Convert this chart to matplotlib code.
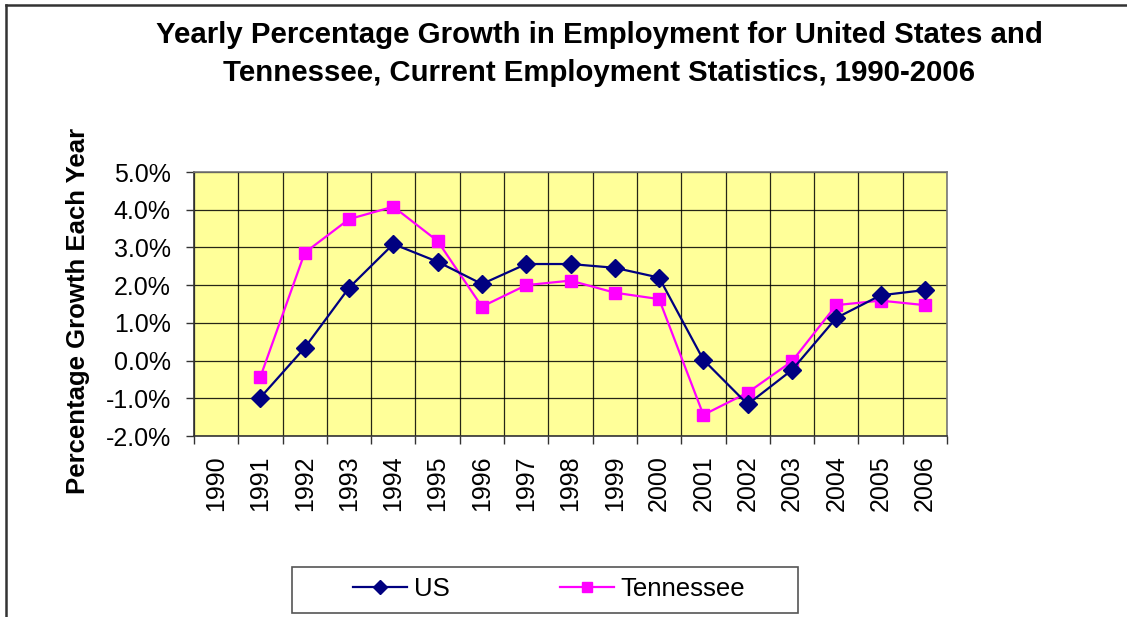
import matplotlib
matplotlib.use("Agg")
import matplotlib.pyplot as plt
from matplotlib.ticker import FixedLocator, FuncFormatter, NullFormatter
from matplotlib.lines import Line2D
from matplotlib.patches import Rectangle

# Yearly percentage growth in employment (CES)
years = [str(y) for y in range(1990, 2007)]
us = [None, -0.98, 0.34, 1.93, 3.09, 2.62, 2.03, 2.56, 2.56, 2.46, 2.20,
      0.02, -1.16, -0.25, 1.13, 1.73, 1.87]
tennessee = [None, -0.43, 2.86, 3.75, 4.08, 3.17, 1.43, 2.00, 2.12, 1.80, 1.63,
             -1.44, -0.85, -0.02, 1.47, 1.59, 1.47]
y_ticks = [-2, -1, 0, 1, 2, 3, 4, 5]

plt.rcParams["font.family"] = ["Liberation Sans", "DejaVu Sans"]

W, H = 1127, 617
fig = plt.figure(figsize=(W / 100, H / 100), dpi=100)
fig.patch.set_facecolor("white")

def fx(px):
    return px / W

def fy(py):
    return 1 - py / H

ax = fig.add_axes([fx(194), fy(436), fx(947) - fx(194), fy(172) - fy(436)])
ax.set_facecolor("#FFFF99")

xs = [i + 0.5 for i in range(len(years))]
us_pts = [(x, v) for x, v in zip(xs, us) if v is not None]
tn_pts = [(x, v) for x, v in zip(xs, tennessee) if v is not None]

ax.plot([p[0] for p in us_pts], [p[1] for p in us_pts], color="#000080",
        lw=1.6, marker="D", ms=9, mfc="#000080", mec="#000080",
        label="US", zorder=4)
ax.plot([p[0] for p in tn_pts], [p[1] for p in tn_pts], color="#FF00FF",
        lw=1.6, marker="s", ms=9, mfc="#FF00FF", mec="#FF00FF",
        label="Tennessee", zorder=3)

ax.set_xlim(0, len(years))
ax.set_ylim(-2, 5)

# category boundaries carry the grid and tick marks, labels sit in between
ax.xaxis.set_major_locator(FixedLocator(range(len(years) + 1)))
ax.xaxis.set_major_formatter(NullFormatter())
ax.xaxis.set_minor_locator(FixedLocator(xs))
ax.set_xticklabels(years, minor=True, rotation=90, fontsize=18)
ax.tick_params(axis="x", which="major", direction="out", length=5.8,
               width=1, color="#333333")
ax.tick_params(axis="x", which="minor", length=0, pad=14)

ax.yaxis.set_major_locator(FixedLocator(y_ticks))
ax.yaxis.set_major_formatter(FuncFormatter(lambda v, p: f"{v:.1f}%"))
ax.tick_params(axis="y", direction="out", length=5.8, width=1,
               color="#333333", pad=11, labelsize=18)

ax.grid(True, which="major", color="#000000", lw=0.9, alpha=0.85)
ax.set_axisbelow(True)
for side in ["left", "bottom"]:
    ax.spines[side].set_color("#333333")
    ax.spines[side].set_linewidth(1.2)
for side in ["right", "top"]:
    ax.spines[side].set_color("#777777")
    ax.spines[side].set_linewidth(1.2)

fig.text(fx(599), fy(35), "Yearly Percentage Growth in Employment for United States and",
         ha="center", va="center", fontsize=21.2, fontweight="bold")
fig.text(fx(599), fy(73), "Tennessee, Current Employment Statistics, 1990-2006",
         ha="center", va="center", fontsize=21.2, fontweight="bold")
fig.text(fx(78), fy(311), "Percentage Growth Each Year", rotation=90,
         ha="center", va="center", fontsize=18.5, fontweight="bold")

# legend box
fig.add_artist(Rectangle((fx(292), fy(613)), fx(798) - fx(292), fy(567) - fy(613),
                         transform=fig.transFigure, facecolor="white",
                         edgecolor="#555555", lw=1.2))
handles, labels = ax.get_legend_handles_labels()
fig.legend(handles, labels, loc="center", bbox_to_anchor=(fx(549), fy(589)),
           ncol=2, frameon=False, fontsize=18.5, handlelength=2.1,
           handletextpad=0.25, columnspacing=4.3, markerscale=0.8)

# outer chart border (left and top)
fig.add_artist(Line2D([fx(6), fx(6)], [fy(617), fy(5)], transform=fig.transFigure,
                      color="#333333", lw=1.8))
fig.add_artist(Line2D([fx(6), fx(1127)], [fy(5), fy(5)], transform=fig.transFigure,
                      color="#333333", lw=1.8))

fig.savefig("out.png", dpi=100)
